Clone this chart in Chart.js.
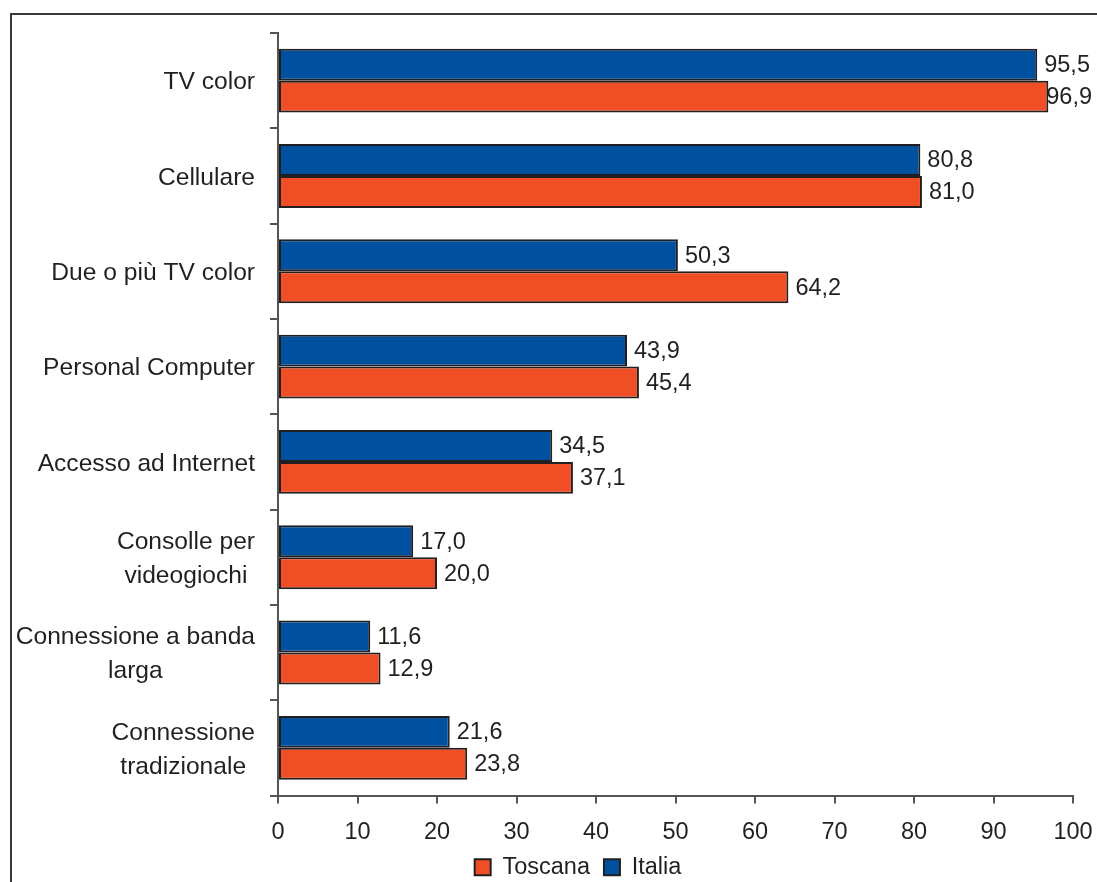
<!DOCTYPE html>
<html>
<head>
<meta charset="utf-8">
<script src="https://cdn.jsdelivr.net/npm/chart.js@4"></script>
<style>
  body { margin: 0; background: #fff; }
  #wrap { position: relative; width: 1097px; height: 882px; }
  #frame { position: absolute; left: 10px; top: 13px; width: 1100px; height: 880px;
           border-top: 2px solid #3a3a3a; border-left: 2px solid #3a3a3a; }
  canvas { position: absolute; left: 0; top: 0; }
</style>
</head>
<body>
<div id="wrap">
  <div id="frame"></div>
  <canvas id="chart" width="1097" height="882"></canvas>
</div>
<script>
// categories, top to bottom
const categories = [
    ['TV color'],
    ['Cellulare'],
    ['Due o più TV color'],
    ['Personal Computer'],
    ['Accesso ad Internet'],
    ['Consolle per', 'videogiochi'],
    ['Connessione a banda', 'larga'],
    ['Connessione', 'tradizionale']
];

const italia = [95.5, 80.8, 50.3, 43.9, 34.5, 17.0, 11.6, 21.6];
const toscana = [96.9, 81.0, 64.2, 45.4, 37.1, 20.0, 12.9, 23.8];

const xTicks = [0, 10, 20, 30, 40, 50, 60, 70, 80, 90, 100];

const textColor = '#231F20';
const fontFamily = '"Liberation Sans", Arial, sans-serif';
const fontSize = 23.5;
const categoryFontSize = 24.6;

Chart.defaults.font.family = fontFamily;
Chart.defaults.font.size = fontSize;
Chart.defaults.color = textColor;

// writes numbers the italian way: 95,5
const fmt = function (v) { return v.toFixed(1).replace('.', ','); };

// category names, multi-line ones centred on each other
const categoryLabels = {
    id: 'categoryLabels',
    afterDraw(chart) {
        const ctx = chart.ctx;
        const y = chart.scales.y;
        const rightEdge = y.right - 23;
        const lineH = 34;
        ctx.save();
        ctx.font = categoryFontSize + 'px ' + fontFamily;
        ctx.fillStyle = textColor;
        ctx.textBaseline = 'middle';
        ctx.textAlign = 'center';
        categories.forEach((lines, i) => {
            const cy = y.getPixelForValue(i) + 2;
            const maxW = Math.max(...lines.map(l => ctx.measureText(l).width));
            const cx = rightEdge - maxW / 2;
            const top = cy - (lines.length - 1) * lineH / 2;
            lines.forEach((l, j) => ctx.fillText(l, cx, top + j * lineH));
        });
        ctx.restore();
    }
};

// value at the end of every bar, kept inside the canvas
const barValues = {
    id: 'barValues',
    afterDatasetsDraw(chart) {
        const ctx = chart.ctx;
        ctx.save();
        ctx.font = fontSize + 'px ' + fontFamily;
        ctx.fillStyle = textColor;
        ctx.textBaseline = 'middle';
        ctx.textAlign = 'left';
        chart.data.datasets.forEach((ds, d) => {
            chart.getDatasetMeta(d).data.forEach((bar, i) => {
                const txt = fmt(ds.data[i]);
                const w = ctx.measureText(txt).width;
                const x = Math.min(bar.x + 7, chart.width - w - 5);
                ctx.fillText(txt, x, bar.y + 1);
            });
        });
        ctx.restore();
    }
};

new Chart(document.getElementById('chart'), {
    type: 'bar',
    data: {
        labels: categories,
        datasets: [{
            label: 'Italia',
            data: italia,
            backgroundColor: '#0050A0',
            borderColor: textColor,
            borderWidth: 2,
            borderSkipped: false
        }, {
            label: 'Toscana',
            data: toscana,
            backgroundColor: '#F04E25',
            borderColor: textColor,
            borderWidth: 2,
            borderSkipped: false
        }]
    },
    options: {
        indexAxis: 'y',
        responsive: false,
        animation: false,
        datasets: {
            bar: { categoryPercentage: 0.67, barPercentage: 1 }
        },
        layout: {
            padding: { left: 83, right: 24, top: 33, bottom: -7 }
        },
        plugins: {
            tooltip: { enabled: false },
            legend: {
                position: 'bottom',
                reverse: true,
                labels: {
                    boxWidth: 16,
                    boxHeight: 16,
                    padding: 14,
                    color: textColor
                }
            }
        },
        scales: {
            y: {
                type: 'category',
                offset: true,
                afterFit(scale) { scale.width = 195; },
                ticks: { display: false },
                grid: {
                    offset: true,
                    drawOnChartArea: false,
                    tickLength: 8,
                    color: '#555',
                    lineWidth: 2
                },
                border: { color: '#555', width: 2 }
            },
            x: {
                min: 0,
                max: 100,
                afterFit(scale) {
                    scale.height = 46;
                    // the right margin already leaves room for "100"
                    scale.paddingLeft = 0;
                    scale.paddingRight = 0;
                },
                afterBuildTicks(scale) { scale.ticks = xTicks.map(v => ({ value: v })); },
                ticks: { padding: 15, color: textColor, maxRotation: 0 },
                grid: {
                    drawOnChartArea: false,
                    tickLength: 8,
                    color: '#555',
                    lineWidth: 2
                },
                border: { color: '#555', width: 2 }
            }
        }
    },
    plugins: [categoryLabels, barValues]
});
</script>
</body>
</html>
